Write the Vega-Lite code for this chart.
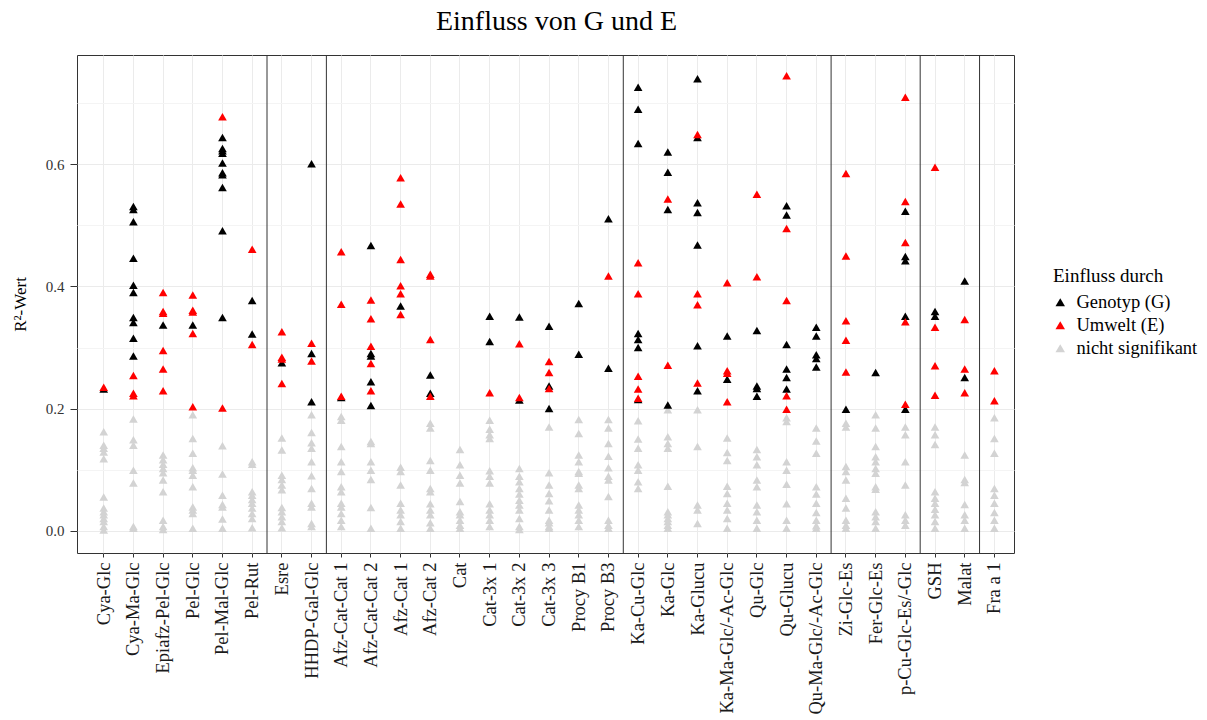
{
"$schema": "https://vega.github.io/schema/vega-lite/v6.json",
"width": 937, "height": 498,
"autosize": "none",
"padding": {"left": 77, "top": 55, "right": 193, "bottom": 167},
"background": "white",
"config": {
  "font": "Liberation Serif",
  "view": {"stroke": "#333333", "strokeWidth": 1},
  "axis": {"labelFont": "Liberation Serif", "titleFont": "Liberation Serif"},
  "legend": {"labelFont": "Liberation Serif", "titleFont": "Liberation Serif"}
},
"title": {"text": "Einfluss von G und E", "fontSize": 28, "fontWeight": "normal", "font": "Liberation Serif", "color": "#000000", "anchor": "middle", "frame": "group", "dx": 11, "offset": 19},
"datasets": {
"punkte": [
{"stoff":"Cya-Glc","einfluss":"ns","r2":0.162},{"stoff":"Cya-Glc","einfluss":"ns","r2":0.140},{"stoff":"Cya-Glc","einfluss":"ns","r2":0.135},{"stoff":"Cya-Glc","einfluss":"ns","r2":0.129},{"stoff":"Cya-Glc","einfluss":"ns","r2":0.118},{"stoff":"Cya-Glc","einfluss":"ns","r2":0.055},{"stoff":"Cya-Glc","einfluss":"ns","r2":0.037},{"stoff":"Cya-Glc","einfluss":"ns","r2":0.031},{"stoff":"Cya-Glc","einfluss":"ns","r2":0.026},{"stoff":"Cya-Glc","einfluss":"ns","r2":0.020},{"stoff":"Cya-Glc","einfluss":"ns","r2":0.015},{"stoff":"Cya-Glc","einfluss":"ns","r2":0.007},{"stoff":"Cya-Glc","einfluss":"ns","r2":0.001},
{"stoff":"Cya-Glc","einfluss":"G","r2":0.232},{"stoff":"Cya-Glc","einfluss":"E","r2":0.235},
{"stoff":"Cya-Ma-Glc","einfluss":"ns","r2":0.183},{"stoff":"Cya-Ma-Glc","einfluss":"ns","r2":0.149},{"stoff":"Cya-Ma-Glc","einfluss":"ns","r2":0.140},{"stoff":"Cya-Ma-Glc","einfluss":"ns","r2":0.099},{"stoff":"Cya-Ma-Glc","einfluss":"ns","r2":0.078},{"stoff":"Cya-Ma-Glc","einfluss":"ns","r2":0.007},{"stoff":"Cya-Ma-Glc","einfluss":"ns","r2":0.004},
{"stoff":"Cya-Ma-Glc","einfluss":"G","r2":0.531},{"stoff":"Cya-Ma-Glc","einfluss":"G","r2":0.526},{"stoff":"Cya-Ma-Glc","einfluss":"G","r2":0.506},{"stoff":"Cya-Ma-Glc","einfluss":"G","r2":0.446},{"stoff":"Cya-Ma-Glc","einfluss":"G","r2":0.402},{"stoff":"Cya-Ma-Glc","einfluss":"G","r2":0.390},{"stoff":"Cya-Ma-Glc","einfluss":"G","r2":0.349},{"stoff":"Cya-Ma-Glc","einfluss":"G","r2":0.341},{"stoff":"Cya-Ma-Glc","einfluss":"G","r2":0.315},{"stoff":"Cya-Ma-Glc","einfluss":"G","r2":0.286},
{"stoff":"Cya-Ma-Glc","einfluss":"E","r2":0.254},{"stoff":"Cya-Ma-Glc","einfluss":"E","r2":0.225},{"stoff":"Cya-Ma-Glc","einfluss":"E","r2":0.221},
{"stoff":"Epiafz-Pel-Glc","einfluss":"ns","r2":0.124},{"stoff":"Epiafz-Pel-Glc","einfluss":"ns","r2":0.116},{"stoff":"Epiafz-Pel-Glc","einfluss":"ns","r2":0.109},{"stoff":"Epiafz-Pel-Glc","einfluss":"ns","r2":0.102},{"stoff":"Epiafz-Pel-Glc","einfluss":"ns","r2":0.095},{"stoff":"Epiafz-Pel-Glc","einfluss":"ns","r2":0.083},{"stoff":"Epiafz-Pel-Glc","einfluss":"ns","r2":0.064},{"stoff":"Epiafz-Pel-Glc","einfluss":"ns","r2":0.017},{"stoff":"Epiafz-Pel-Glc","einfluss":"ns","r2":0.007},{"stoff":"Epiafz-Pel-Glc","einfluss":"ns","r2":0.002},
{"stoff":"Epiafz-Pel-Glc","einfluss":"G","r2":0.337},
{"stoff":"Epiafz-Pel-Glc","einfluss":"E","r2":0.390},{"stoff":"Epiafz-Pel-Glc","einfluss":"E","r2":0.359},{"stoff":"Epiafz-Pel-Glc","einfluss":"E","r2":0.356},{"stoff":"Epiafz-Pel-Glc","einfluss":"E","r2":0.295},{"stoff":"Epiafz-Pel-Glc","einfluss":"E","r2":0.265},{"stoff":"Epiafz-Pel-Glc","einfluss":"E","r2":0.229},
{"stoff":"Pel-Glc","einfluss":"ns","r2":0.190},{"stoff":"Pel-Glc","einfluss":"ns","r2":0.151},{"stoff":"Pel-Glc","einfluss":"ns","r2":0.127},{"stoff":"Pel-Glc","einfluss":"ns","r2":0.103},{"stoff":"Pel-Glc","einfluss":"ns","r2":0.099},{"stoff":"Pel-Glc","einfluss":"ns","r2":0.091},{"stoff":"Pel-Glc","einfluss":"ns","r2":0.072},{"stoff":"Pel-Glc","einfluss":"ns","r2":0.039},{"stoff":"Pel-Glc","einfluss":"ns","r2":0.034},{"stoff":"Pel-Glc","einfluss":"ns","r2":0.028},{"stoff":"Pel-Glc","einfluss":"ns","r2":0.004},
{"stoff":"Pel-Glc","einfluss":"G","r2":0.337},
{"stoff":"Pel-Glc","einfluss":"E","r2":0.386},{"stoff":"Pel-Glc","einfluss":"E","r2":0.361},{"stoff":"Pel-Glc","einfluss":"E","r2":0.358},{"stoff":"Pel-Glc","einfluss":"E","r2":0.323},{"stoff":"Pel-Glc","einfluss":"E","r2":0.203},
{"stoff":"Pel-Mal-Glc","einfluss":"ns","r2":0.139},{"stoff":"Pel-Mal-Glc","einfluss":"ns","r2":0.093},{"stoff":"Pel-Mal-Glc","einfluss":"ns","r2":0.058},{"stoff":"Pel-Mal-Glc","einfluss":"ns","r2":0.043},{"stoff":"Pel-Mal-Glc","einfluss":"ns","r2":0.039},{"stoff":"Pel-Mal-Glc","einfluss":"ns","r2":0.019},{"stoff":"Pel-Mal-Glc","einfluss":"ns","r2":0.004},
{"stoff":"Pel-Mal-Glc","einfluss":"G","r2":0.644},{"stoff":"Pel-Mal-Glc","einfluss":"G","r2":0.626},{"stoff":"Pel-Mal-Glc","einfluss":"G","r2":0.622},{"stoff":"Pel-Mal-Glc","einfluss":"G","r2":0.618},{"stoff":"Pel-Mal-Glc","einfluss":"G","r2":0.602},{"stoff":"Pel-Mal-Glc","einfluss":"G","r2":0.586},{"stoff":"Pel-Mal-Glc","einfluss":"G","r2":0.583},{"stoff":"Pel-Mal-Glc","einfluss":"G","r2":0.562},{"stoff":"Pel-Mal-Glc","einfluss":"G","r2":0.491},{"stoff":"Pel-Mal-Glc","einfluss":"G","r2":0.349},
{"stoff":"Pel-Mal-Glc","einfluss":"E","r2":0.678},{"stoff":"Pel-Mal-Glc","einfluss":"E","r2":0.201},
{"stoff":"Pel-Rut","einfluss":"ns","r2":0.113},{"stoff":"Pel-Rut","einfluss":"ns","r2":0.109},{"stoff":"Pel-Rut","einfluss":"ns","r2":0.064},{"stoff":"Pel-Rut","einfluss":"ns","r2":0.058},{"stoff":"Pel-Rut","einfluss":"ns","r2":0.051},{"stoff":"Pel-Rut","einfluss":"ns","r2":0.045},{"stoff":"Pel-Rut","einfluss":"ns","r2":0.037},{"stoff":"Pel-Rut","einfluss":"ns","r2":0.028},{"stoff":"Pel-Rut","einfluss":"ns","r2":0.020},{"stoff":"Pel-Rut","einfluss":"ns","r2":0.005},
{"stoff":"Pel-Rut","einfluss":"G","r2":0.377},{"stoff":"Pel-Rut","einfluss":"G","r2":0.322},
{"stoff":"Pel-Rut","einfluss":"E","r2":0.461},{"stoff":"Pel-Rut","einfluss":"E","r2":0.305},
{"stoff":"Esre","einfluss":"ns","r2":0.152},{"stoff":"Esre","einfluss":"ns","r2":0.132},{"stoff":"Esre","einfluss":"ns","r2":0.091},{"stoff":"Esre","einfluss":"ns","r2":0.084},{"stoff":"Esre","einfluss":"ns","r2":0.075},{"stoff":"Esre","einfluss":"ns","r2":0.067},{"stoff":"Esre","einfluss":"ns","r2":0.038},{"stoff":"Esre","einfluss":"ns","r2":0.031},{"stoff":"Esre","einfluss":"ns","r2":0.023},{"stoff":"Esre","einfluss":"ns","r2":0.015},{"stoff":"Esre","einfluss":"ns","r2":0.005},
{"stoff":"Esre","einfluss":"G","r2":0.275},
{"stoff":"Esre","einfluss":"E","r2":0.326},{"stoff":"Esre","einfluss":"E","r2":0.284},{"stoff":"Esre","einfluss":"E","r2":0.281},{"stoff":"Esre","einfluss":"E","r2":0.241},
{"stoff":"HHDP-Gal-Glc","einfluss":"ns","r2":0.190},{"stoff":"HHDP-Gal-Glc","einfluss":"ns","r2":0.161},{"stoff":"HHDP-Gal-Glc","einfluss":"ns","r2":0.144},{"stoff":"HHDP-Gal-Glc","einfluss":"ns","r2":0.135},{"stoff":"HHDP-Gal-Glc","einfluss":"ns","r2":0.113},{"stoff":"HHDP-Gal-Glc","einfluss":"ns","r2":0.090},{"stoff":"HHDP-Gal-Glc","einfluss":"ns","r2":0.069},{"stoff":"HHDP-Gal-Glc","einfluss":"ns","r2":0.045},{"stoff":"HHDP-Gal-Glc","einfluss":"ns","r2":0.039},{"stoff":"HHDP-Gal-Glc","einfluss":"ns","r2":0.012},{"stoff":"HHDP-Gal-Glc","einfluss":"ns","r2":0.007},
{"stoff":"HHDP-Gal-Glc","einfluss":"G","r2":0.601},{"stoff":"HHDP-Gal-Glc","einfluss":"G","r2":0.290},{"stoff":"HHDP-Gal-Glc","einfluss":"G","r2":0.211},
{"stoff":"HHDP-Gal-Glc","einfluss":"E","r2":0.307},{"stoff":"HHDP-Gal-Glc","einfluss":"E","r2":0.278},
{"stoff":"Afz-Cat-Cat 1","einfluss":"ns","r2":0.187},{"stoff":"Afz-Cat-Cat 1","einfluss":"ns","r2":0.181},{"stoff":"Afz-Cat-Cat 1","einfluss":"ns","r2":0.138},{"stoff":"Afz-Cat-Cat 1","einfluss":"ns","r2":0.113},{"stoff":"Afz-Cat-Cat 1","einfluss":"ns","r2":0.097},{"stoff":"Afz-Cat-Cat 1","einfluss":"ns","r2":0.072},{"stoff":"Afz-Cat-Cat 1","einfluss":"ns","r2":0.064},{"stoff":"Afz-Cat-Cat 1","einfluss":"ns","r2":0.045},{"stoff":"Afz-Cat-Cat 1","einfluss":"ns","r2":0.039},{"stoff":"Afz-Cat-Cat 1","einfluss":"ns","r2":0.028},{"stoff":"Afz-Cat-Cat 1","einfluss":"ns","r2":0.017},{"stoff":"Afz-Cat-Cat 1","einfluss":"ns","r2":0.007},
{"stoff":"Afz-Cat-Cat 1","einfluss":"G","r2":0.218},
{"stoff":"Afz-Cat-Cat 1","einfluss":"E","r2":0.457},{"stoff":"Afz-Cat-Cat 1","einfluss":"E","r2":0.371},{"stoff":"Afz-Cat-Cat 1","einfluss":"E","r2":0.220},
{"stoff":"Afz-Cat-Cat 2","einfluss":"ns","r2":0.146},{"stoff":"Afz-Cat-Cat 2","einfluss":"ns","r2":0.143},{"stoff":"Afz-Cat-Cat 2","einfluss":"ns","r2":0.113},{"stoff":"Afz-Cat-Cat 2","einfluss":"ns","r2":0.099},{"stoff":"Afz-Cat-Cat 2","einfluss":"ns","r2":0.084},{"stoff":"Afz-Cat-Cat 2","einfluss":"ns","r2":0.038},{"stoff":"Afz-Cat-Cat 2","einfluss":"ns","r2":0.004},
{"stoff":"Afz-Cat-Cat 2","einfluss":"G","r2":0.467},{"stoff":"Afz-Cat-Cat 2","einfluss":"G","r2":0.290},{"stoff":"Afz-Cat-Cat 2","einfluss":"G","r2":0.286},{"stoff":"Afz-Cat-Cat 2","einfluss":"G","r2":0.244},{"stoff":"Afz-Cat-Cat 2","einfluss":"G","r2":0.205},
{"stoff":"Afz-Cat-Cat 2","einfluss":"E","r2":0.378},{"stoff":"Afz-Cat-Cat 2","einfluss":"E","r2":0.347},{"stoff":"Afz-Cat-Cat 2","einfluss":"E","r2":0.302},{"stoff":"Afz-Cat-Cat 2","einfluss":"E","r2":0.274},{"stoff":"Afz-Cat-Cat 2","einfluss":"E","r2":0.229},
{"stoff":"Afz-Cat 1","einfluss":"ns","r2":0.104},{"stoff":"Afz-Cat 1","einfluss":"ns","r2":0.097},{"stoff":"Afz-Cat 1","einfluss":"ns","r2":0.075},{"stoff":"Afz-Cat 1","einfluss":"ns","r2":0.045},{"stoff":"Afz-Cat 1","einfluss":"ns","r2":0.034},{"stoff":"Afz-Cat 1","einfluss":"ns","r2":0.026},{"stoff":"Afz-Cat 1","einfluss":"ns","r2":0.015},{"stoff":"Afz-Cat 1","einfluss":"ns","r2":0.004},
{"stoff":"Afz-Cat 1","einfluss":"G","r2":0.368},
{"stoff":"Afz-Cat 1","einfluss":"E","r2":0.578},{"stoff":"Afz-Cat 1","einfluss":"E","r2":0.535},{"stoff":"Afz-Cat 1","einfluss":"E","r2":0.444},{"stoff":"Afz-Cat 1","einfluss":"E","r2":0.401},{"stoff":"Afz-Cat 1","einfluss":"E","r2":0.388},{"stoff":"Afz-Cat 1","einfluss":"E","r2":0.354},
{"stoff":"Afz-Cat 2","einfluss":"ns","r2":0.176},{"stoff":"Afz-Cat 2","einfluss":"ns","r2":0.168},{"stoff":"Afz-Cat 2","einfluss":"ns","r2":0.115},{"stoff":"Afz-Cat 2","einfluss":"ns","r2":0.099},{"stoff":"Afz-Cat 2","einfluss":"ns","r2":0.069},{"stoff":"Afz-Cat 2","einfluss":"ns","r2":0.064},{"stoff":"Afz-Cat 2","einfluss":"ns","r2":0.044},{"stoff":"Afz-Cat 2","einfluss":"ns","r2":0.034},{"stoff":"Afz-Cat 2","einfluss":"ns","r2":0.026},{"stoff":"Afz-Cat 2","einfluss":"ns","r2":0.013},{"stoff":"Afz-Cat 2","einfluss":"ns","r2":0.004},
{"stoff":"Afz-Cat 2","einfluss":"G","r2":0.255},{"stoff":"Afz-Cat 2","einfluss":"G","r2":0.225},
{"stoff":"Afz-Cat 2","einfluss":"E","r2":0.420},{"stoff":"Afz-Cat 2","einfluss":"E","r2":0.417},{"stoff":"Afz-Cat 2","einfluss":"E","r2":0.313},{"stoff":"Afz-Cat 2","einfluss":"E","r2":0.220},
{"stoff":"Cat","einfluss":"ns","r2":0.133},{"stoff":"Cat","einfluss":"ns","r2":0.108},{"stoff":"Cat","einfluss":"ns","r2":0.091},{"stoff":"Cat","einfluss":"ns","r2":0.078},{"stoff":"Cat","einfluss":"ns","r2":0.048},{"stoff":"Cat","einfluss":"ns","r2":0.031},{"stoff":"Cat","einfluss":"ns","r2":0.026},{"stoff":"Cat","einfluss":"ns","r2":0.017},{"stoff":"Cat","einfluss":"ns","r2":0.009},{"stoff":"Cat","einfluss":"ns","r2":0.004},
{"stoff":"Cat-3x 1","einfluss":"ns","r2":0.181},{"stoff":"Cat-3x 1","einfluss":"ns","r2":0.166},{"stoff":"Cat-3x 1","einfluss":"ns","r2":0.157},{"stoff":"Cat-3x 1","einfluss":"ns","r2":0.151},{"stoff":"Cat-3x 1","einfluss":"ns","r2":0.098},{"stoff":"Cat-3x 1","einfluss":"ns","r2":0.089},{"stoff":"Cat-3x 1","einfluss":"ns","r2":0.078},{"stoff":"Cat-3x 1","einfluss":"ns","r2":0.044},{"stoff":"Cat-3x 1","einfluss":"ns","r2":0.034},{"stoff":"Cat-3x 1","einfluss":"ns","r2":0.026},{"stoff":"Cat-3x 1","einfluss":"ns","r2":0.017},{"stoff":"Cat-3x 1","einfluss":"ns","r2":0.007},
{"stoff":"Cat-3x 1","einfluss":"G","r2":0.351},{"stoff":"Cat-3x 1","einfluss":"G","r2":0.310},
{"stoff":"Cat-3x 1","einfluss":"E","r2":0.226},
{"stoff":"Cat-3x 2","einfluss":"ns","r2":0.102},{"stoff":"Cat-3x 2","einfluss":"ns","r2":0.089},{"stoff":"Cat-3x 2","einfluss":"ns","r2":0.080},{"stoff":"Cat-3x 2","einfluss":"ns","r2":0.069},{"stoff":"Cat-3x 2","einfluss":"ns","r2":0.060},{"stoff":"Cat-3x 2","einfluss":"ns","r2":0.050},{"stoff":"Cat-3x 2","einfluss":"ns","r2":0.042},{"stoff":"Cat-3x 2","einfluss":"ns","r2":0.034},{"stoff":"Cat-3x 2","einfluss":"ns","r2":0.020},{"stoff":"Cat-3x 2","einfluss":"ns","r2":0.007},{"stoff":"Cat-3x 2","einfluss":"ns","r2":0.002},
{"stoff":"Cat-3x 2","einfluss":"G","r2":0.350},{"stoff":"Cat-3x 2","einfluss":"G","r2":0.214},
{"stoff":"Cat-3x 2","einfluss":"E","r2":0.306},{"stoff":"Cat-3x 2","einfluss":"E","r2":0.218},
{"stoff":"Cat-3x 3","einfluss":"ns","r2":0.170},{"stoff":"Cat-3x 3","einfluss":"ns","r2":0.095},{"stoff":"Cat-3x 3","einfluss":"ns","r2":0.075},{"stoff":"Cat-3x 3","einfluss":"ns","r2":0.061},{"stoff":"Cat-3x 3","einfluss":"ns","r2":0.049},{"stoff":"Cat-3x 3","einfluss":"ns","r2":0.034},{"stoff":"Cat-3x 3","einfluss":"ns","r2":0.017},{"stoff":"Cat-3x 3","einfluss":"ns","r2":0.013},{"stoff":"Cat-3x 3","einfluss":"ns","r2":0.007},{"stoff":"Cat-3x 3","einfluss":"ns","r2":0.004},
{"stoff":"Cat-3x 3","einfluss":"G","r2":0.335},{"stoff":"Cat-3x 3","einfluss":"G","r2":0.237},{"stoff":"Cat-3x 3","einfluss":"G","r2":0.200},
{"stoff":"Cat-3x 3","einfluss":"E","r2":0.277},{"stoff":"Cat-3x 3","einfluss":"E","r2":0.259},{"stoff":"Cat-3x 3","einfluss":"E","r2":0.233},
{"stoff":"Procy B1","einfluss":"ns","r2":0.182},{"stoff":"Procy B1","einfluss":"ns","r2":0.159},{"stoff":"Procy B1","einfluss":"ns","r2":0.124},{"stoff":"Procy B1","einfluss":"ns","r2":0.113},{"stoff":"Procy B1","einfluss":"ns","r2":0.097},{"stoff":"Procy B1","einfluss":"ns","r2":0.094},{"stoff":"Procy B1","einfluss":"ns","r2":0.075},{"stoff":"Procy B1","einfluss":"ns","r2":0.069},{"stoff":"Procy B1","einfluss":"ns","r2":0.042},{"stoff":"Procy B1","einfluss":"ns","r2":0.034},{"stoff":"Procy B1","einfluss":"ns","r2":0.026},{"stoff":"Procy B1","einfluss":"ns","r2":0.017},{"stoff":"Procy B1","einfluss":"ns","r2":0.007},
{"stoff":"Procy B1","einfluss":"G","r2":0.372},{"stoff":"Procy B1","einfluss":"G","r2":0.289},
{"stoff":"Procy B3","einfluss":"ns","r2":0.182},{"stoff":"Procy B3","einfluss":"ns","r2":0.168},{"stoff":"Procy B3","einfluss":"ns","r2":0.143},{"stoff":"Procy B3","einfluss":"ns","r2":0.122},{"stoff":"Procy B3","einfluss":"ns","r2":0.103},{"stoff":"Procy B3","einfluss":"ns","r2":0.089},{"stoff":"Procy B3","einfluss":"ns","r2":0.083},{"stoff":"Procy B3","einfluss":"ns","r2":0.056},{"stoff":"Procy B3","einfluss":"ns","r2":0.017},{"stoff":"Procy B3","einfluss":"ns","r2":0.009},{"stoff":"Procy B3","einfluss":"ns","r2":0.004},
{"stoff":"Procy B3","einfluss":"G","r2":0.511},{"stoff":"Procy B3","einfluss":"G","r2":0.266},
{"stoff":"Procy B3","einfluss":"E","r2":0.417},
{"stoff":"Ka-Cu-Glc","einfluss":"ns","r2":0.180},{"stoff":"Ka-Cu-Glc","einfluss":"ns","r2":0.150},{"stoff":"Ka-Cu-Glc","einfluss":"ns","r2":0.135},{"stoff":"Ka-Cu-Glc","einfluss":"ns","r2":0.108},{"stoff":"Ka-Cu-Glc","einfluss":"ns","r2":0.099},{"stoff":"Ka-Cu-Glc","einfluss":"ns","r2":0.080},{"stoff":"Ka-Cu-Glc","einfluss":"ns","r2":0.069},
{"stoff":"Ka-Cu-Glc","einfluss":"G","r2":0.726},{"stoff":"Ka-Cu-Glc","einfluss":"G","r2":0.690},{"stoff":"Ka-Cu-Glc","einfluss":"G","r2":0.634},{"stoff":"Ka-Cu-Glc","einfluss":"G","r2":0.323},{"stoff":"Ka-Cu-Glc","einfluss":"G","r2":0.313},{"stoff":"Ka-Cu-Glc","einfluss":"G","r2":0.300},{"stoff":"Ka-Cu-Glc","einfluss":"G","r2":0.215},
{"stoff":"Ka-Cu-Glc","einfluss":"E","r2":0.439},{"stoff":"Ka-Cu-Glc","einfluss":"E","r2":0.388},{"stoff":"Ka-Cu-Glc","einfluss":"E","r2":0.253},{"stoff":"Ka-Cu-Glc","einfluss":"E","r2":0.232},{"stoff":"Ka-Cu-Glc","einfluss":"E","r2":0.217},
{"stoff":"Ka-Glc","einfluss":"ns","r2":0.198},{"stoff":"Ka-Glc","einfluss":"ns","r2":0.154},{"stoff":"Ka-Glc","einfluss":"ns","r2":0.143},{"stoff":"Ka-Glc","einfluss":"ns","r2":0.135},{"stoff":"Ka-Glc","einfluss":"ns","r2":0.073},{"stoff":"Ka-Glc","einfluss":"ns","r2":0.031},{"stoff":"Ka-Glc","einfluss":"ns","r2":0.026},{"stoff":"Ka-Glc","einfluss":"ns","r2":0.020},{"stoff":"Ka-Glc","einfluss":"ns","r2":0.015},{"stoff":"Ka-Glc","einfluss":"ns","r2":0.009},{"stoff":"Ka-Glc","einfluss":"ns","r2":0.004},
{"stoff":"Ka-Glc","einfluss":"G","r2":0.620},{"stoff":"Ka-Glc","einfluss":"G","r2":0.587},{"stoff":"Ka-Glc","einfluss":"G","r2":0.526},{"stoff":"Ka-Glc","einfluss":"G","r2":0.206},
{"stoff":"Ka-Glc","einfluss":"E","r2":0.543},{"stoff":"Ka-Glc","einfluss":"E","r2":0.271},
{"stoff":"Ka-Glucu","einfluss":"ns","r2":0.198},{"stoff":"Ka-Glucu","einfluss":"ns","r2":0.138},{"stoff":"Ka-Glucu","einfluss":"ns","r2":0.042},{"stoff":"Ka-Glucu","einfluss":"ns","r2":0.034},{"stoff":"Ka-Glucu","einfluss":"ns","r2":0.012},
{"stoff":"Ka-Glucu","einfluss":"G","r2":0.740},{"stoff":"Ka-Glucu","einfluss":"G","r2":0.644},{"stoff":"Ka-Glucu","einfluss":"G","r2":0.537},{"stoff":"Ka-Glucu","einfluss":"G","r2":0.521},{"stoff":"Ka-Glucu","einfluss":"G","r2":0.468},{"stoff":"Ka-Glucu","einfluss":"G","r2":0.303},{"stoff":"Ka-Glucu","einfluss":"G","r2":0.229},
{"stoff":"Ka-Glucu","einfluss":"E","r2":0.649},{"stoff":"Ka-Glucu","einfluss":"E","r2":0.388},{"stoff":"Ka-Glucu","einfluss":"E","r2":0.370},{"stoff":"Ka-Glucu","einfluss":"E","r2":0.242},
{"stoff":"Ka-Ma-Glc/-Ac-Glc","einfluss":"ns","r2":0.152},{"stoff":"Ka-Ma-Glc/-Ac-Glc","einfluss":"ns","r2":0.128},{"stoff":"Ka-Ma-Glc/-Ac-Glc","einfluss":"ns","r2":0.115},{"stoff":"Ka-Ma-Glc/-Ac-Glc","einfluss":"ns","r2":0.073},{"stoff":"Ka-Ma-Glc/-Ac-Glc","einfluss":"ns","r2":0.061},{"stoff":"Ka-Ma-Glc/-Ac-Glc","einfluss":"ns","r2":0.045},{"stoff":"Ka-Ma-Glc/-Ac-Glc","einfluss":"ns","r2":0.034},{"stoff":"Ka-Ma-Glc/-Ac-Glc","einfluss":"ns","r2":0.020},{"stoff":"Ka-Ma-Glc/-Ac-Glc","einfluss":"ns","r2":0.004},
{"stoff":"Ka-Ma-Glc/-Ac-Glc","einfluss":"G","r2":0.319},{"stoff":"Ka-Ma-Glc/-Ac-Glc","einfluss":"G","r2":0.248},
{"stoff":"Ka-Ma-Glc/-Ac-Glc","einfluss":"E","r2":0.406},{"stoff":"Ka-Ma-Glc/-Ac-Glc","einfluss":"E","r2":0.262},{"stoff":"Ka-Ma-Glc/-Ac-Glc","einfluss":"E","r2":0.258},{"stoff":"Ka-Ma-Glc/-Ac-Glc","einfluss":"E","r2":0.211},
{"stoff":"Qu-Glc","einfluss":"ns","r2":0.133},{"stoff":"Qu-Glc","einfluss":"ns","r2":0.121},{"stoff":"Qu-Glc","einfluss":"ns","r2":0.108},{"stoff":"Qu-Glc","einfluss":"ns","r2":0.083},{"stoff":"Qu-Glc","einfluss":"ns","r2":0.072},{"stoff":"Qu-Glc","einfluss":"ns","r2":0.042},{"stoff":"Qu-Glc","einfluss":"ns","r2":0.031},{"stoff":"Qu-Glc","einfluss":"ns","r2":0.017},{"stoff":"Qu-Glc","einfluss":"ns","r2":0.004},
{"stoff":"Qu-Glc","einfluss":"G","r2":0.328},{"stoff":"Qu-Glc","einfluss":"G","r2":0.237},{"stoff":"Qu-Glc","einfluss":"G","r2":0.233},{"stoff":"Qu-Glc","einfluss":"G","r2":0.220},
{"stoff":"Qu-Glc","einfluss":"E","r2":0.551},{"stoff":"Qu-Glc","einfluss":"E","r2":0.416},
{"stoff":"Qu-Glucu","einfluss":"ns","r2":0.185},{"stoff":"Qu-Glucu","einfluss":"ns","r2":0.179},{"stoff":"Qu-Glucu","einfluss":"ns","r2":0.113},{"stoff":"Qu-Glucu","einfluss":"ns","r2":0.099},{"stoff":"Qu-Glucu","einfluss":"ns","r2":0.076},{"stoff":"Qu-Glucu","einfluss":"ns","r2":0.044},{"stoff":"Qu-Glucu","einfluss":"ns","r2":0.017},{"stoff":"Qu-Glucu","einfluss":"ns","r2":0.004},
{"stoff":"Qu-Glucu","einfluss":"G","r2":0.532},{"stoff":"Qu-Glucu","einfluss":"G","r2":0.517},{"stoff":"Qu-Glucu","einfluss":"G","r2":0.305},{"stoff":"Qu-Glucu","einfluss":"G","r2":0.265},{"stoff":"Qu-Glucu","einfluss":"G","r2":0.251},{"stoff":"Qu-Glucu","einfluss":"G","r2":0.232},
{"stoff":"Qu-Glucu","einfluss":"E","r2":0.745},{"stoff":"Qu-Glucu","einfluss":"E","r2":0.495},{"stoff":"Qu-Glucu","einfluss":"E","r2":0.377},{"stoff":"Qu-Glucu","einfluss":"E","r2":0.221},{"stoff":"Qu-Glucu","einfluss":"E","r2":0.199},
{"stoff":"Qu-Ma-Glc/-Ac-Glc","einfluss":"ns","r2":0.168},{"stoff":"Qu-Ma-Glc/-Ac-Glc","einfluss":"ns","r2":0.147},{"stoff":"Qu-Ma-Glc/-Ac-Glc","einfluss":"ns","r2":0.127},{"stoff":"Qu-Ma-Glc/-Ac-Glc","einfluss":"ns","r2":0.072},{"stoff":"Qu-Ma-Glc/-Ac-Glc","einfluss":"ns","r2":0.060},{"stoff":"Qu-Ma-Glc/-Ac-Glc","einfluss":"ns","r2":0.045},{"stoff":"Qu-Ma-Glc/-Ac-Glc","einfluss":"ns","r2":0.030},{"stoff":"Qu-Ma-Glc/-Ac-Glc","einfluss":"ns","r2":0.017},{"stoff":"Qu-Ma-Glc/-Ac-Glc","einfluss":"ns","r2":0.008},{"stoff":"Qu-Ma-Glc/-Ac-Glc","einfluss":"ns","r2":0.004},
{"stoff":"Qu-Ma-Glc/-Ac-Glc","einfluss":"G","r2":0.333},{"stoff":"Qu-Ma-Glc/-Ac-Glc","einfluss":"G","r2":0.319},{"stoff":"Qu-Ma-Glc/-Ac-Glc","einfluss":"G","r2":0.288},{"stoff":"Qu-Ma-Glc/-Ac-Glc","einfluss":"G","r2":0.282},{"stoff":"Qu-Ma-Glc/-Ac-Glc","einfluss":"G","r2":0.268},
{"stoff":"Zi-Glc-Es","einfluss":"ns","r2":0.176},{"stoff":"Zi-Glc-Es","einfluss":"ns","r2":0.170},{"stoff":"Zi-Glc-Es","einfluss":"ns","r2":0.105},{"stoff":"Zi-Glc-Es","einfluss":"ns","r2":0.097},{"stoff":"Zi-Glc-Es","einfluss":"ns","r2":0.083},{"stoff":"Zi-Glc-Es","einfluss":"ns","r2":0.053},{"stoff":"Zi-Glc-Es","einfluss":"ns","r2":0.037},{"stoff":"Zi-Glc-Es","einfluss":"ns","r2":0.017},{"stoff":"Zi-Glc-Es","einfluss":"ns","r2":0.009},{"stoff":"Zi-Glc-Es","einfluss":"ns","r2":0.004},
{"stoff":"Zi-Glc-Es","einfluss":"G","r2":0.199},
{"stoff":"Zi-Glc-Es","einfluss":"E","r2":0.585},{"stoff":"Zi-Glc-Es","einfluss":"E","r2":0.450},{"stoff":"Zi-Glc-Es","einfluss":"E","r2":0.344},{"stoff":"Zi-Glc-Es","einfluss":"E","r2":0.312},{"stoff":"Zi-Glc-Es","einfluss":"E","r2":0.260},
{"stoff":"Fer-Glc-Es","einfluss":"ns","r2":0.190},{"stoff":"Fer-Glc-Es","einfluss":"ns","r2":0.168},{"stoff":"Fer-Glc-Es","einfluss":"ns","r2":0.138},{"stoff":"Fer-Glc-Es","einfluss":"ns","r2":0.121},{"stoff":"Fer-Glc-Es","einfluss":"ns","r2":0.113},{"stoff":"Fer-Glc-Es","einfluss":"ns","r2":0.102},{"stoff":"Fer-Glc-Es","einfluss":"ns","r2":0.094},{"stoff":"Fer-Glc-Es","einfluss":"ns","r2":0.072},{"stoff":"Fer-Glc-Es","einfluss":"ns","r2":0.068},{"stoff":"Fer-Glc-Es","einfluss":"ns","r2":0.031},{"stoff":"Fer-Glc-Es","einfluss":"ns","r2":0.023},{"stoff":"Fer-Glc-Es","einfluss":"ns","r2":0.015},{"stoff":"Fer-Glc-Es","einfluss":"ns","r2":0.004},
{"stoff":"Fer-Glc-Es","einfluss":"G","r2":0.259},
{"stoff":"p-Cu-Glc-Es/-Glc","einfluss":"ns","r2":0.170},{"stoff":"p-Cu-Glc-Es/-Glc","einfluss":"ns","r2":0.157},{"stoff":"p-Cu-Glc-Es/-Glc","einfluss":"ns","r2":0.113},{"stoff":"p-Cu-Glc-Es/-Glc","einfluss":"ns","r2":0.075},{"stoff":"p-Cu-Glc-Es/-Glc","einfluss":"ns","r2":0.026},{"stoff":"p-Cu-Glc-Es/-Glc","einfluss":"ns","r2":0.017},{"stoff":"p-Cu-Glc-Es/-Glc","einfluss":"ns","r2":0.009},
{"stoff":"p-Cu-Glc-Es/-Glc","einfluss":"G","r2":0.523},{"stoff":"p-Cu-Glc-Es/-Glc","einfluss":"G","r2":0.449},{"stoff":"p-Cu-Glc-Es/-Glc","einfluss":"G","r2":0.442},{"stoff":"p-Cu-Glc-Es/-Glc","einfluss":"G","r2":0.351},{"stoff":"p-Cu-Glc-Es/-Glc","einfluss":"G","r2":0.199},
{"stoff":"p-Cu-Glc-Es/-Glc","einfluss":"E","r2":0.710},{"stoff":"p-Cu-Glc-Es/-Glc","einfluss":"E","r2":0.539},{"stoff":"p-Cu-Glc-Es/-Glc","einfluss":"E","r2":0.472},{"stoff":"p-Cu-Glc-Es/-Glc","einfluss":"E","r2":0.342},{"stoff":"p-Cu-Glc-Es/-Glc","einfluss":"E","r2":0.207},
{"stoff":"GSH","einfluss":"ns","r2":0.170},{"stoff":"GSH","einfluss":"ns","r2":0.157},{"stoff":"GSH","einfluss":"ns","r2":0.141},{"stoff":"GSH","einfluss":"ns","r2":0.064},{"stoff":"GSH","einfluss":"ns","r2":0.053},{"stoff":"GSH","einfluss":"ns","r2":0.045},{"stoff":"GSH","einfluss":"ns","r2":0.035},{"stoff":"GSH","einfluss":"ns","r2":0.026},{"stoff":"GSH","einfluss":"ns","r2":0.015},{"stoff":"GSH","einfluss":"ns","r2":0.004},
{"stoff":"GSH","einfluss":"G","r2":0.359},{"stoff":"GSH","einfluss":"G","r2":0.351},
{"stoff":"GSH","einfluss":"E","r2":0.595},{"stoff":"GSH","einfluss":"E","r2":0.333},{"stoff":"GSH","einfluss":"E","r2":0.270},{"stoff":"GSH","einfluss":"E","r2":0.222},
{"stoff":"Malat","einfluss":"ns","r2":0.124},{"stoff":"Malat","einfluss":"ns","r2":0.084},{"stoff":"Malat","einfluss":"ns","r2":0.079},{"stoff":"Malat","einfluss":"ns","r2":0.043},{"stoff":"Malat","einfluss":"ns","r2":0.026},{"stoff":"Malat","einfluss":"ns","r2":0.017},{"stoff":"Malat","einfluss":"ns","r2":0.004},
{"stoff":"Malat","einfluss":"G","r2":0.409},{"stoff":"Malat","einfluss":"G","r2":0.251},
{"stoff":"Malat","einfluss":"E","r2":0.346},{"stoff":"Malat","einfluss":"E","r2":0.265},{"stoff":"Malat","einfluss":"E","r2":0.226},
{"stoff":"Fra a 1","einfluss":"ns","r2":0.185},{"stoff":"Fra a 1","einfluss":"ns","r2":0.151},{"stoff":"Fra a 1","einfluss":"ns","r2":0.127},{"stoff":"Fra a 1","einfluss":"ns","r2":0.069},{"stoff":"Fra a 1","einfluss":"ns","r2":0.058},{"stoff":"Fra a 1","einfluss":"ns","r2":0.045},{"stoff":"Fra a 1","einfluss":"ns","r2":0.030},{"stoff":"Fra a 1","einfluss":"ns","r2":0.017},{"stoff":"Fra a 1","einfluss":"ns","r2":0.004},
{"stoff":"Fra a 1","einfluss":"E","r2":0.262},{"stoff":"Fra a 1","einfluss":"E","r2":0.213}
],
"gruppen": [
{"stoff":"Esre"},{"stoff":"Afz-Cat-Cat 1"},{"stoff":"Ka-Cu-Glc"},{"stoff":"Zi-Glc-Es"},{"stoff":"GSH"},{"stoff":"Fra a 1"}
]
},
"layer": [
{
"data": {"name": "punkte"},
"mark": {"type": "point", "shape": "triangle-up", "filled": true, "opacity": 1, "size": 75},
"encoding": {
  "x": {"field": "stoff", "type": "nominal", "title": null,
    "scale": {"type": "band", "paddingInner": 0, "paddingOuter": 0.28, "align": 0.714,
      "domain": ["Cya-Glc","Cya-Ma-Glc","Epiafz-Pel-Glc","Pel-Glc","Pel-Mal-Glc","Pel-Rut","Esre","HHDP-Gal-Glc","Afz-Cat-Cat 1","Afz-Cat-Cat 2","Afz-Cat 1","Afz-Cat 2","Cat","Cat-3x 1","Cat-3x 2","Cat-3x 3","Procy B1","Procy B3","Ka-Cu-Glc","Ka-Glc","Ka-Glucu","Ka-Ma-Glc/-Ac-Glc","Qu-Glc","Qu-Glucu","Qu-Ma-Glc/-Ac-Glc","Zi-Glc-Es","Fer-Glc-Es","p-Cu-Glc-Es/-Glc","GSH","Malat","Fra a 1"]},
    "axis": {"labelAngle": -90, "labelFont": "Liberation Serif", "labelFontSize": 18.5, "labelColor": "#1a1a1a", "labelPadding": 5,
      "tickColor": "#333333", "tickSize": 4, "domain": false, "grid": true, "gridColor": "#ebebeb", "bandPosition": 0.5}},
  "y": {"field": "r2", "type": "quantitative", "title": "R²-Wert",
    "scale": {"domain": [-0.0365, 0.779], "nice": false, "zero": false},
    "axis": {"values": [0, 0.1, 0.2, 0.3, 0.4, 0.5, 0.6, 0.7],
      "labelExpr": "round(datum.value*10)%2==0 ? format(datum.value,'.1f') : ''",
      "labelFont": "Liberation Serif", "labelFontSize": 15, "labelColor": "#333333", "labelPadding": 6,
      "tickColor": "#333333", "tickSize": 7,
      "tickOpacity": {"condition": {"test": "round(datum.value*10)%2==0", "value": 1}, "value": 0},
      "gridColor": {"condition": {"test": "round(datum.value*10)%2==0", "value": "#ebebeb"}, "value": "#f4f4f4"},
      "domain": false, "grid": true,
      "titleFont": "Liberation Serif", "titleFontSize": 17, "titleFontWeight": "normal", "titleColor": "#000000", "titlePadding": 16}},
  "color": {"field": "einfluss", "type": "nominal",
    "scale": {"domain": ["G", "E", "ns"], "range": ["#000000", "#ff0000", "#d3d3d3"]},
    "legend": {"title": "Einfluss durch", "orient": "none", "legendX": 976, "legendY": 212,
      "labelExpr": "datum.value == 'G' ? 'Genotyp (G)' : datum.value == 'E' ? 'Umwelt (E)' : 'nicht signifikant'",
      "titleFont": "Liberation Serif", "titleFontSize": 19, "titleFontWeight": "normal", "titleColor": "#000000", "titlePadding": 7,
      "labelFont": "Liberation Serif", "labelFontSize": 18.5, "labelColor": "#000000", "rowPadding": 4, "symbolSize": 90, "symbolType": "triangle-up", "symbolOffset": -2, "labelOffset": 7}}
}
},
{
"data": {"name": "gruppen"},
"mark": {"type": "rule", "color": "#333333", "strokeWidth": 1},
"encoding": {"x": {"field": "stoff", "type": "nominal", "bandPosition": 0}}
}
]
}
